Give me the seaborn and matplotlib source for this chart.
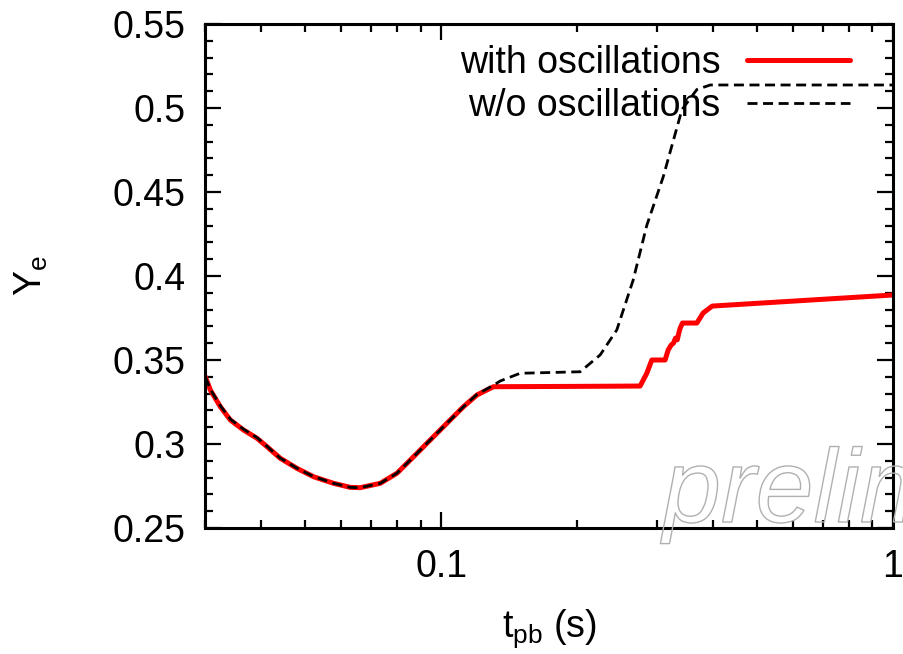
import matplotlib
matplotlib.use("Agg")
import matplotlib.pyplot as plt
import matplotlib.patheffects as pe
from matplotlib.ticker import FixedLocator, NullFormatter, FixedFormatter, MultipleLocator
import seaborn as sns
import pandas as pd

# ---- data ----
t_osc = [0.03005, 0.03083, 0.03244, 0.03413, 0.03652, 0.03911, 0.04115, 0.04402,
         0.04794, 0.05219, 0.05776, 0.06289, 0.06619, 0.07329, 0.0798, 0.08684,
         0.09455, 0.1029, 0.1120, 0.1200, 0.1305, 0.200, 0.2756, 0.2851, 0.2925,
         0.3130, 0.3180, 0.3230, 0.3266, 0.3300, 0.3330, 0.3360, 0.3380, 0.3420,
         0.3680, 0.3800, 0.3980, 1.0]
ye_osc = [0.3401, 0.3321, 0.3222, 0.3143, 0.3083, 0.3034, 0.2984, 0.2915,
          0.2855, 0.2805, 0.2766, 0.2742, 0.2740, 0.2766, 0.2826, 0.2924,
          0.3024, 0.3123, 0.3222, 0.3292, 0.3341, 0.3343, 0.3345, 0.3421, 0.3500,
          0.3500, 0.3560, 0.3590, 0.3600, 0.3630, 0.3620, 0.3665, 0.3690, 0.3720,
          0.3720, 0.3780, 0.3821, 0.3887]

t_noosc = [0.03005, 0.03083, 0.03244, 0.03413, 0.03652, 0.03911, 0.04115, 0.04402,
           0.04794, 0.05219, 0.05776, 0.06289, 0.06619, 0.07329, 0.0798, 0.08684,
           0.09455, 0.1029, 0.1120, 0.1200, 0.1305, 0.1351, 0.1495, 0.2030, 0.2248,
           0.2447, 0.266, 0.285, 0.310, 0.341, 0.368, 0.394, 1.0]
ye_noosc = [0.3401, 0.3325, 0.3228, 0.3148, 0.3088, 0.3038, 0.2986, 0.2916,
            0.2856, 0.2806, 0.2766, 0.2742, 0.2740, 0.2766, 0.2826, 0.2924,
            0.3024, 0.3123, 0.3222, 0.3295, 0.3350, 0.3375, 0.3421, 0.3430, 0.3530,
            0.3679, 0.3976, 0.4300, 0.4590, 0.4990, 0.5110, 0.5137, 0.5137]

labels = ["with oscillations", "w/o oscillations"]
x_major = [0.1, 1.0]
x_major_labels = ["0.1", "1"]
y_major = [0.25, 0.3, 0.35, 0.4, 0.45, 0.5, 0.55]
y_major_labels = ["0.25", "0.3", "0.35", "0.4", "0.45", "0.5", "0.55"]

df_osc = pd.DataFrame({"t": t_osc, "Ye": ye_osc})
df_noosc = pd.DataFrame({"t": t_noosc, "Ye": ye_noosc})

sns.set_style("ticks")
plt.rcParams["font.family"] = ["Liberation Sans", "DejaVu Sans"]
plt.rcParams["mathtext.fontset"] = "custom"
plt.rcParams["mathtext.rm"] = "Liberation Sans"
plt.rcParams["mathtext.it"] = "Liberation Sans:italic"
plt.rcParams["text.color"] = "black"
plt.rcParams["axes.labelcolor"] = "black"
plt.rcParams["xtick.color"] = "black"
plt.rcParams["ytick.color"] = "black"

FS = 27
fig = plt.figure(figsize=(9.04, 6.54), dpi=100)
ax = fig.add_axes([205/904, 1-528/654, (893-205)/904, (528-24)/654])

sns.lineplot(data=df_osc, x="t", y="Ye", ax=ax, color="#ff0000", linewidth=3.6,
             label=labels[0], estimator=None, zorder=2)
sns.lineplot(data=df_noosc, x="t", y="Ye", ax=ax, color="black", linewidth=2.0,
             label=labels[1], estimator=None, zorder=3)
ax.lines[1].set_dashes((3.6, 2.0))

ax.set_xscale("log")
ax.set_xlim(0.03, 1.0)
ax.set_ylim(0.25, 0.55)

ax.xaxis.set_major_locator(FixedLocator(x_major))
ax.xaxis.set_major_formatter(FixedFormatter(x_major_labels))
minors = [k * 0.01 for k in range(3, 10)] + [k * 0.1 for k in range(2, 10)]
ax.xaxis.set_minor_locator(FixedLocator(minors))
ax.xaxis.set_minor_formatter(NullFormatter())
ax.yaxis.set_major_locator(FixedLocator(y_major))
ax.yaxis.set_major_formatter(FixedFormatter(y_major_labels))
ax.yaxis.set_minor_locator(MultipleLocator(0.01))

ax.tick_params(which="both", direction="in", top=True, right=True,
               labelsize=FS, colors="black", labelcolor="black")
ax.tick_params(which="major", length=11.5, width=1.6)
ax.tick_params(which="minor", length=5.8, width=1.6)
ax.tick_params(axis="y", which="major", pad=14)
ax.tick_params(axis="x", which="major", pad=15)
for s in ax.spines.values():
    s.set_linewidth(2.2)
    s.set_color("black")

ax.set_xlabel(r"$\mathrm{t}_{\mathrm{pb}}$ (s)", fontsize=FS, color="black")
ax.set_ylabel(r"$\mathrm{Y}_{\mathrm{e}}$", fontsize=FS, color="black")
ax.xaxis.set_label_coords(0.5, -0.158)
ax.yaxis.set_label_coords((50-205)/688, 0.5)

leg = ax.legend(loc="upper right", bbox_to_anchor=((850-205)/688, (528-45)/504),
                frameon=False, markerfirst=False, fontsize=FS, handlelength=2.75,
                handletextpad=0.7, labelspacing=0.2, borderaxespad=0, borderpad=0)
for txt in leg.get_texts():
    txt.set_color("black")

fig.text(663/904, 1-522/654, "preliminary", fontsize=75, style="italic",
         family="Liberation Sans", color="none", ha="left", va="baseline",
         path_effects=[pe.Stroke(linewidth=1.0, foreground="#b0b0b0")])

fig.savefig("out.png", dpi=100)
